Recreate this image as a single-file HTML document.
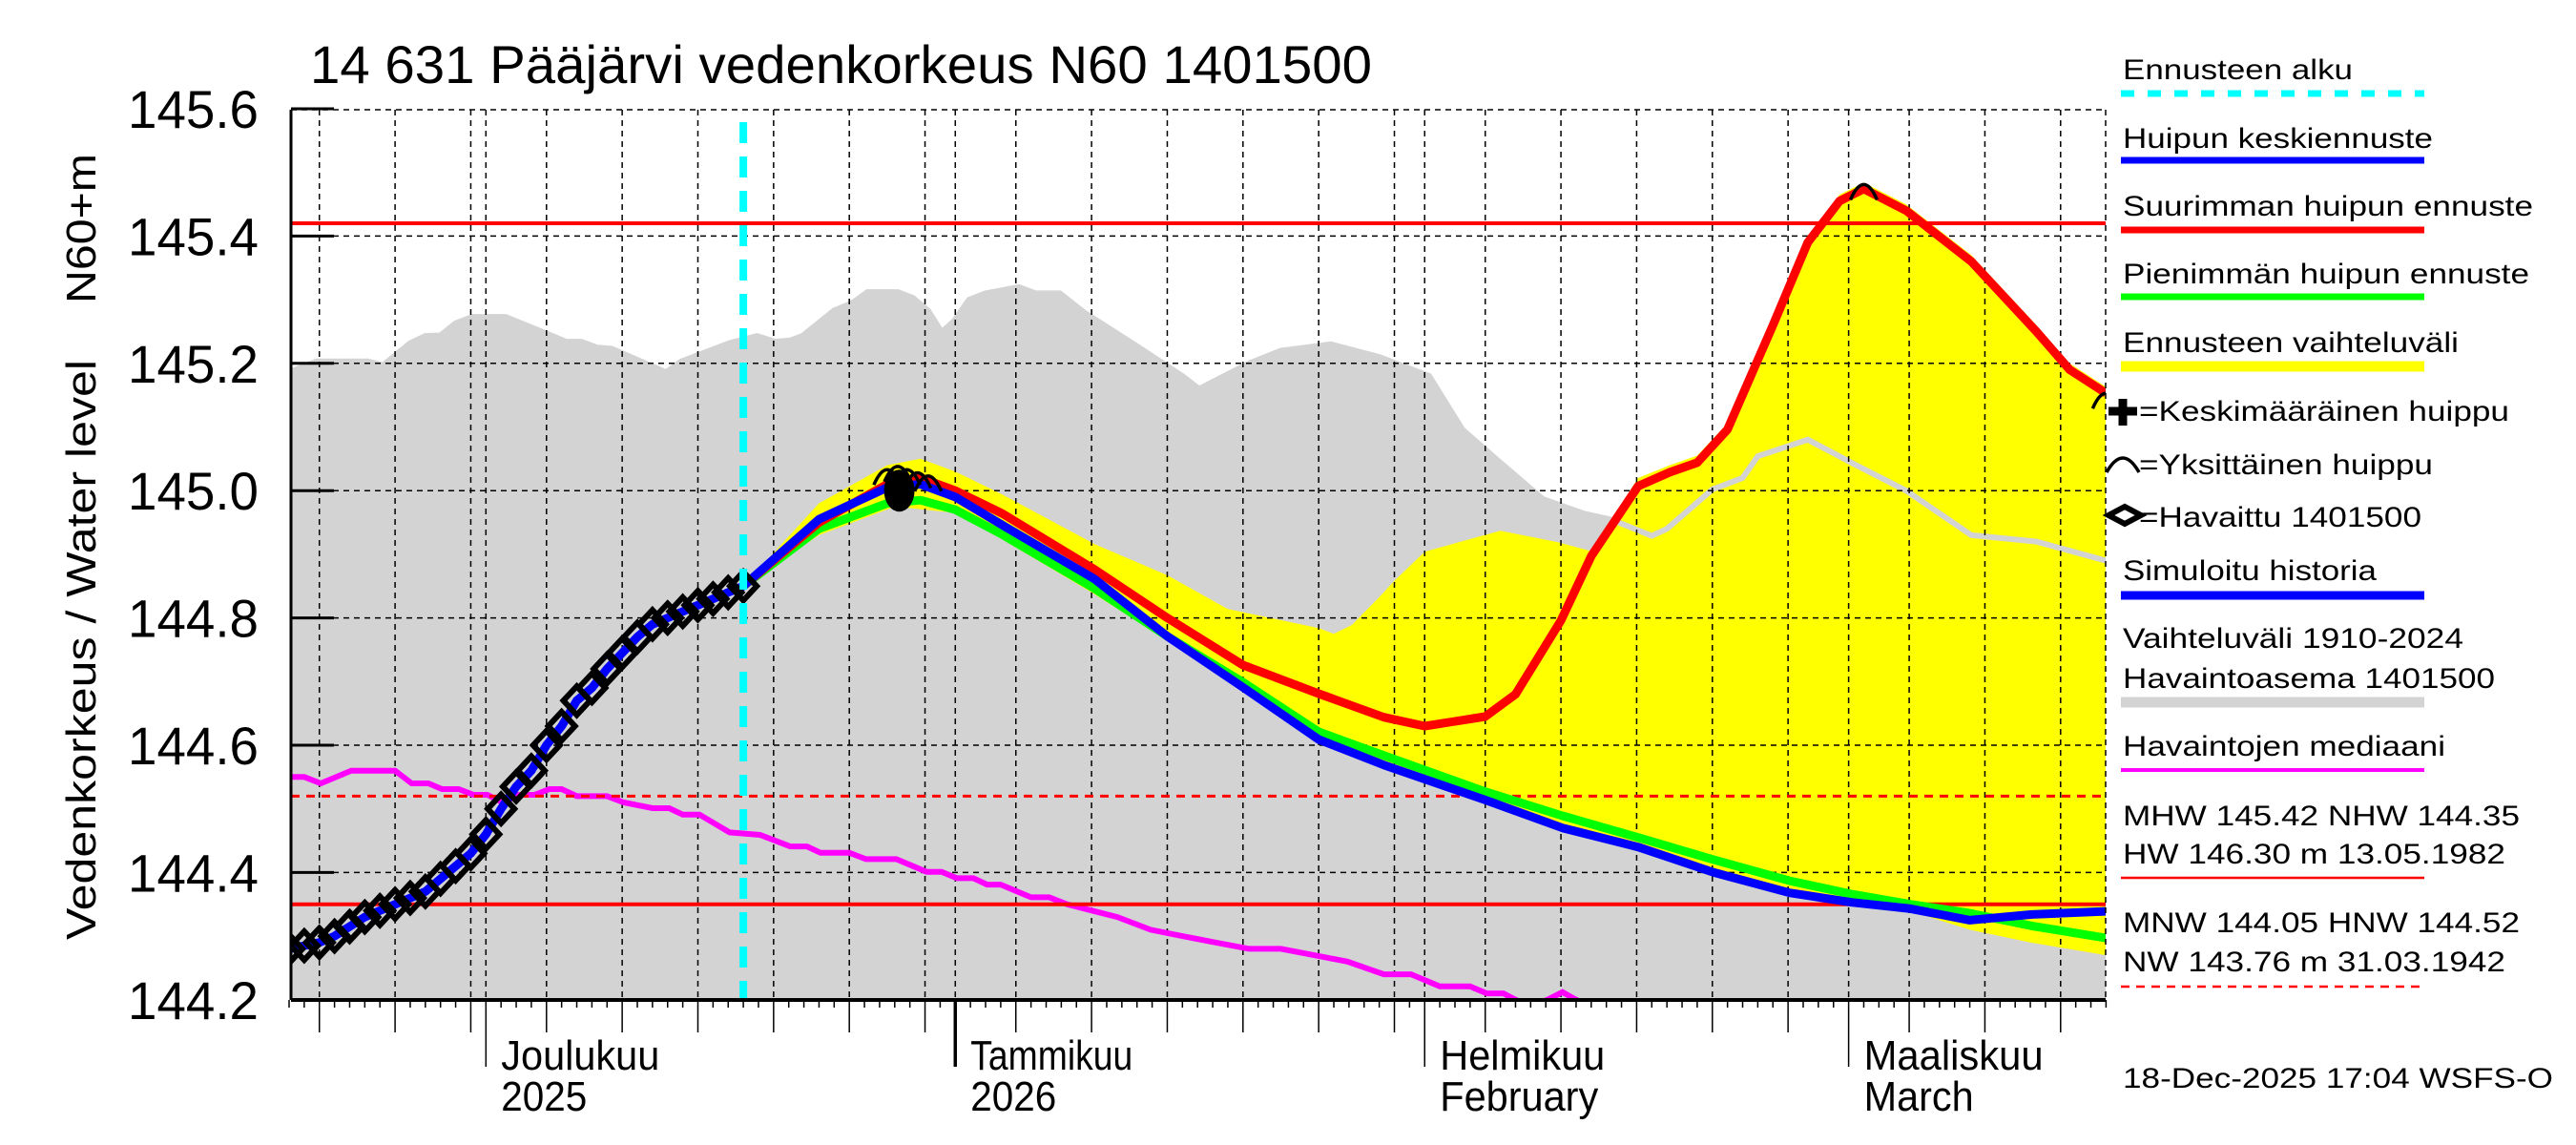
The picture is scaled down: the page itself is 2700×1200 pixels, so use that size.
<!DOCTYPE html>
<html><head><meta charset="utf-8"><style>
html,body{margin:0;padding:0;background:#fff;}
svg{display:block;font-family:"Liberation Sans",sans-serif;}
</style></head><body>
<svg id="chart" width="2700" height="1200" viewBox="0 0 2700 1200" xmlns="http://www.w3.org/2000/svg">
<defs><clipPath id="plotclip"><rect x="305" y="115" width="1902" height="932"/></clipPath></defs>
<text x="325" y="87" font-size="56" textLength="1113" lengthAdjust="spacingAndGlyphs">14 631 Pääjärvi vedenkorkeus N60 1401500</text>
<g id="plot" clip-path="url(#plotclip)"></g>
<g id="axes"></g>
<g id="legend"></g>
</svg>
<script>
// ---- data ----
const obsDays = [0,1,2,3,4,5,6,7,8,9,10,11,12,13,14,15,16,17,18,19,20,21,22,23,24,25,26,27,28,29,30];
const obsVals = [144.28,144.285,144.29,144.30,144.315,144.33,144.34,144.35,144.36,144.37,144.39,144.41,144.43,144.46,144.50,144.535,144.56,144.60,144.63,144.67,144.69,144.72,144.745,144.77,144.79,144.80,144.81,144.82,144.83,144.84,144.85];
const redDays = [30,35,39.5,41.7,44,47.1,53.2,58,63,68,72.3,75,79,81,84,86,89.1,91.2,93,95,98,100.3,102.4,104,106.8,111.1,115.4,117.6,120];
const redVals = [144.85,144.95,145.01,145.02,145.0,144.964,144.876,144.80,144.726,144.681,144.644,144.63,144.645,144.68,144.796,144.897,145.007,145.029,145.044,145.096,145.26,145.39,145.455,145.474,145.44,145.36,145.25,145.19,145.153];
const blueDays = [30,35,39.5,41.7,44,47.1,53.2,58,63,68,72.3,79,84.1,89.1,94.1,99.1,103.2,107.1,111,115.1,120];
const blueVals = [144.85,144.955,145.005,145.01,144.99,144.946,144.861,144.771,144.691,144.609,144.569,144.514,144.47,144.44,144.40,144.368,144.353,144.343,144.325,144.334,144.339];
const greenDays = [30,35,39.5,41.7,44,47.1,53.2,58,63,68,72.3,79,84.1,89.1,94.1,99.1,103.2,107.1,111,115.1,120];
const greenVals = [144.85,144.94,144.98,144.985,144.97,144.931,144.846,144.771,144.699,144.621,144.584,144.527,144.489,144.455,144.42,144.387,144.366,144.35,144.336,144.316,144.297];
const yelUpDays = [30,35,39.5,41.7,44,47.1,53.2,58,62,68,69,70.2,72.3,72.9,75,80,83.8,86,89.1,91.2,93,95,98,100.3,102.4,104,106.8,111.1,115.4,117.6,120];
const yelUpVals = [144.85,144.98,145.04,145.05,145.03,144.994,144.916,144.867,144.814,144.784,144.775,144.789,144.84,144.856,144.904,144.937,144.919,144.905,145.02,145.04,145.055,145.106,145.27,145.40,145.465,145.484,145.45,145.37,145.26,145.20,145.163];
const yelLoDays = [30,35,40,44,47,53,58,63,68,72,79,84,89,94,99,103,107,111,115,120];
const yelLoVals = [144.85,144.93,144.975,144.965,144.925,144.84,144.765,144.685,144.603,144.566,144.51,144.466,144.436,144.396,144.364,144.348,144.34,144.31,144.29,144.27];
const grayDays = [0,1.8,5.2,6.2,8,9,10,11,12.1,14.3,17.1,18.3,19.3,20.3,21.3,24.9,25.9,29.1,30.9,32.1,33.1,33.9,36,37.2,38.2,40.2,41.2,42.2,43.1,43.9,44.9,46,48.2,49.3,50.9,52.5,55.8,59,60.1,63.4,65.5,68.8,72,75.3,77.5,79.7,82.8,85.5,87.4,90,91,94,96,97,100.3,103.5,106.8,111.1,115.4,120];
const grayVals = [145.186,145.203,145.203,145.197,145.232,145.243,145.244,145.263,145.273,145.273,145.246,145.234,145.234,145.225,145.223,145.186,145.203,145.232,145.243,145.234,145.236,145.243,145.283,145.295,145.312,145.312,145.303,145.283,145.249,145.266,145.30,145.31,145.32,145.31,145.31,145.28,145.23,145.18,145.16,145.20,145.22,145.23,145.21,145.18,145.096,145.05,144.987,144.964,144.954,144.929,144.94,145.002,145.02,145.054,145.08,145.04,145.00,144.93,144.92,144.89];
const medDays = [0,1,2.1,4.1,7,8.1,9.2,10.1,11.2,12.2,13.1,14.1,15.2,16.2,17.2,18,19,21,22.1,24,25.1,26,27.1,29.1,31.1,33.1,34.2,35.1,37,38.1,40.1,42.1,43.1,44.1,45.2,46.1,47,49,50.2,51.4,54.7,56.9,59,61.2,63.4,65.5,67.7,69.9,72.3,74.1,76,78,79.1,80.2,81,82,83.1,84.1,85,86];
const medVals = [144.55,144.55,144.54,144.56,144.56,144.54,144.54,144.531,144.531,144.522,144.522,144.51,144.522,144.522,144.531,144.531,144.52,144.52,144.51,144.501,144.501,144.491,144.491,144.463,144.459,144.441,144.441,144.431,144.431,144.421,144.421,144.401,144.401,144.391,144.391,144.381,144.381,144.361,144.361,144.35,144.33,144.31,144.30,144.29,144.28,144.28,144.27,144.26,144.24,144.24,144.221,144.221,144.21,144.21,144.2,144.19,144.2,144.212,144.2,144.19];
const yTicks = [144.2,144.4,144.6,144.8,145.0,145.2,145.4,145.6];
const yTickLabels = ["144.2","144.4","144.6","144.8","145.0","145.2","145.4","145.6"];
const monthDays = [13,44,75,103];
const monthNames = ["Joulukuu","Tammikuu","Helmikuu","Maaliskuu"];
const monthSub = ["2025","2026","February","March"];
const gridDays = [2,7,12,13,17,22,27,32,37,42,44,48,53,58,63,68,73,75,79,84,89,94,99,103,107,112,117];
const refLines = [145.42,144.35];
const refDashed = [144.52];
const forecastStart = 30;
const peakDays = [39.5,40.2,40.8,41.5,42.2,104,120];
const peakVals = [145.03,145.035,145.03,145.025,145.02,145.478,145.15];

// ---- scales ----
const X0=303, PXD=15.87, Y0=114, PXU=667;
const xs = d => X0 + d*PXD;
const ys = v => Y0 + (145.6 - v)*PXU;
const NS="http://www.w3.org/2000/svg";
const plot=document.getElementById('plot'), axes=document.getElementById('axes'), leg=document.getElementById('legend');
function mk(tag, attrs, parent){const e=document.createElementNS(NS,tag);for(const k in attrs)e.setAttribute(k,attrs[k]);parent.appendChild(e);return e;}
function pts(ds,vs){return ds.map((d,i)=>xs(d).toFixed(1)+','+ys(vs[i]).toFixed(1));}

let g = mk('polygon',{points:pts(grayDays,grayVals).join(' ')+' '+xs(120)+',1100 '+xs(0)+',1100',fill:'#d3d3d3'},plot);


const lo = pts(yelLoDays,yelLoVals).reverse();
let y = mk('polygon',{points:pts(yelUpDays,yelUpVals).concat(lo).join(' '),fill:'#ffff00'},plot);


let gl = mk('polyline',{points:pts(grayDays,grayVals).join(' '),fill:'none',stroke:'#d3d3d3','stroke-width':6},plot);


yTicks.forEach(v=>{let l=mk('line',{x1:305,x2:2207,y1:ys(v),y2:ys(v),stroke:'#000','stroke-width':1.5,'stroke-dasharray':'6,5'},plot);

});
gridDays.forEach(d=>{let l=mk('line',{x1:xs(d),x2:xs(d),y1:115,y2:1047,stroke:'#000','stroke-width':1.5,'stroke-dasharray':'6,5'},plot);

});
mk('line',{x1:2207,x2:2207,y1:115,y2:1047,stroke:'#000','stroke-width':1.5,'stroke-dasharray':'6,5'},axes);
mk('line',{x1:305,x2:2207,y1:115,y2:115,stroke:'#000','stroke-width':1.5,'stroke-dasharray':'6,5'},axes);
let m = mk('polyline',{points:pts(medDays,medVals).join(' '),fill:'none',stroke:'#ff00ff','stroke-width':6},plot);


refLines.forEach(v=>{let l=mk('line',{x1:305,x2:2207,y1:ys(v),y2:ys(v),stroke:'#ff0000','stroke-width':4},plot);

});
refDashed.forEach(v=>{let l=mk('line',{x1:305,x2:2207,y1:ys(v),y2:ys(v),stroke:'#ff0000','stroke-width':3,'stroke-dasharray':'9,7'},plot);

});
[[greenDays,greenVals,'#00ff00','min-peak-forecast-line'],[redDays,redVals,'#ff0000','max-peak-forecast-line'],[blueDays,blueVals,'#0000ff','mean-peak-forecast-line']].forEach(s=>{
 let l=mk('polyline',{points:pts(s[0],s[1]).join(' '),fill:'none',stroke:s[2],'stroke-width':9,'stroke-linejoin':'round'},plot);
 
 
});
let sh=mk('polyline',{points:pts(obsDays,obsVals).join(' '),fill:'none',stroke:'#0000ff','stroke-width':9},plot);


obsDays.forEach((d,i)=>{const cx=xs(d),cy=ys(obsVals[i]);
 let p=mk('polygon',{points:`${cx},${cy-15} ${cx+14},${cy} ${cx},${cy+15} ${cx-14},${cy}`,fill:'none',stroke:'#000','stroke-width':6},plot);
 
 });
let bl=mk('ellipse',{cx:xs(40.3),cy:ys(145.0),rx:16,ry:22,fill:'#000'},plot);


peakDays.forEach((d,i)=>{const cx=xs(d),cy=ys(peakVals[i]);
 let a=mk('path',{d:`M${cx-14},${cy+14} Q${cx},${cy-18} ${cx+14},${cy+14}`,fill:'none',stroke:'#000','stroke-width':3.5},plot);
 
 });
let fs=mk('line',{x1:xs(forecastStart),x2:xs(forecastStart),y1:128,y2:1047,stroke:'#00ffff','stroke-width':8,'stroke-dasharray':'22,14'},plot);



mk('line',{x1:305,x2:305,y1:115,y2:1048,stroke:'#000','stroke-width':3},axes);
mk('line',{x1:305,x2:2207,y1:1048,y2:1048,stroke:'#000','stroke-width':4},axes);
yTicks.forEach((v,i)=>{mk('line',{x1:305,x2:350,y1:ys(v),y2:ys(v),stroke:'#000','stroke-width':3},axes);
 let t=mk('text',{x:271,y:ys(v)+20,'font-size':56,'text-anchor':'end',textLength:137,lengthAdjust:'spacingAndGlyphs'},axes);
 t.textContent=yTickLabels[i];
 
 });
for(let d=0; d<=120; d++){
 let len = monthDays.includes(d)?70:(gridDays.includes(d)?34:8);
 mk('line',{x1:xs(d),x2:xs(d),y1:1048,y2:1048+len,stroke:'#000','stroke-width':d===44?3.5:1.5},axes);
}
const mWidths=[166,170,173,188], sWidths=[90,90,166,115];
monthDays.forEach((d,i)=>{
 let t=mk('text',{x:xs(d)+16,y:1121,'font-size':44,textLength:mWidths[i],lengthAdjust:'spacingAndGlyphs'},axes);
 t.textContent=monthNames[i];
 
 
 let s=mk('text',{x:xs(d)+16,y:1164,'font-size':44,textLength:sWidths[i],lengthAdjust:'spacingAndGlyphs'},axes);
 s.textContent=monthSub[i];
 
 
});
let yt=mk('text',{x:0,y:0,'font-size':44,transform:'translate(100,985) rotate(-90)',textLength:608,lengthAdjust:'spacingAndGlyphs'},axes);
yt.textContent='Vedenkorkeus / Water level';


let yu=mk('text',{x:0,y:0,'font-size':44,transform:'translate(100,318) rotate(-90)',textLength:157,lengthAdjust:'spacingAndGlyphs'},axes);
yu.textContent='N60+m';



const LX=2225, LX2=2541;
function ltext(str,x,y,w,name){let t=mk('text',{x:x,y:y,'font-size':30,textLength:w,lengthAdjust:'spacingAndGlyphs'},leg);t.textContent=str;
 
 return t;}
function lline(y,color,w,dash){let a={x1:2223,x2:LX2,y1:y,y2:y,stroke:color,'stroke-width':w};if(dash)a['stroke-dasharray']=dash;let l=mk('line',a,leg);
 
 }
ltext('Ennusteen alku',LX,83,241,'legend-forecast-start'); lline(98,'#00ffff',7,'14,14');
ltext('Huipun keskiennuste',LX,155,325,'legend-mean-peak'); lline(168,'#0000ff',7);
ltext('Suurimman huipun ennuste',LX,226,430,'legend-max-peak'); lline(241,'#ff0000',7);
ltext('Pienimmän huipun ennuste',LX,297,426,'legend-min-peak'); lline(311,'#00ff00',7);
ltext('Ennusteen vaihteluväli',LX,369,352,'legend-forecast-range'); lline(384,'#ffff00',11);
mk('path',{d:'M2210,431 h30 M2225,418 v28',stroke:'#000','stroke-width':9,fill:'none'},leg);
ltext('=Keskimääräinen huippu',2242,441,388,'legend-mean-peak-marker');
mk('path',{d:'M2208,495 Q2225,465 2242,495',stroke:'#000','stroke-width':3.5,fill:'none'},leg);
ltext('=Yksittäinen huippu',2242,497,308,'legend-single-peak-marker');
mk('polygon',{points:'2210,540 2227,531 2244,540 2227,549',stroke:'#000','stroke-width':6,fill:'none'},leg);
ltext('=Havaittu 1401500',2242,552,296,'legend-observed');
ltext('Simuloitu historia',LX,608,266,'legend-simulated'); lline(624,'#0000ff',9);
ltext('Vaihteluväli 1910-2024',LX,679,357,'legend-range-years');
ltext('Havaintoasema 1401500',LX,721,390,'legend-station'); lline(736,'#d3d3d3',11);
ltext('Havaintojen mediaani',LX,792,338,'legend-median'); lline(807,'#ff00ff',4);
ltext('MHW 145.42 NHW 144.35',LX,865,416,'legend-mhw');
ltext('HW 146.30 m 13.05.1982',LX,905,401,'legend-hw'); lline(920,'#ff0000',2.5);
ltext('MNW 144.05 HNW 144.52',LX,977,416,'legend-mnw');
ltext('NW 143.76 m 31.03.1942',LX,1018,401,'legend-nw'); lline(1034,'#ff0000',2.5,'9,7');
ltext('18-Dec-2025 17:04 WSFS-O',LX,1140,451,'timestamp');
</script>
</body></html>
